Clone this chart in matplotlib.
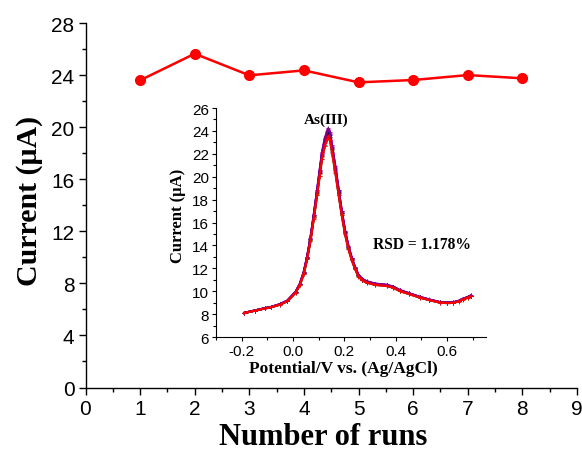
import matplotlib.pyplot as plt
from matplotlib.ticker import MultipleLocator

# Main plot: peak current for each run
runs = [1, 2, 3, 4, 5, 6, 7, 8]
peak_current = [23.60, 25.64, 23.98, 24.36, 23.44, 23.62, 24.00, 23.75]

# Inset: DPV curve (potential in V, current in uA)
potential = [-0.19, -0.15, -0.11, -0.087, -0.05, -0.022, 0.01, 0.027, 0.042,
             0.055, 0.068, 0.081, 0.094, 0.104, 0.113, 0.124, 0.133, 0.137,
             0.144, 0.152, 0.165, 0.178, 0.19, 0.203, 0.216, 0.229, 0.242,
             0.255, 0.27, 0.287, 0.32, 0.365, 0.39, 0.416, 0.45, 0.494, 0.53,
             0.571, 0.6, 0.622, 0.645, 0.661, 0.68, 0.694]
current = [8.1, 8.3, 8.5, 8.6, 8.85, 9.15, 9.9, 10.6, 11.6,
           12.9, 14.5, 16.5, 18.6, 20.3, 21.8, 23.0, 23.6, 23.85,
           23.5, 22.4, 20.6, 18.6, 16.8, 15.1, 13.8, 12.8, 12.0,
           11.35, 11.0, 10.8, 10.6, 10.5, 10.35, 10.05, 9.8, 9.47, 9.25,
           9.03, 8.98, 9.0, 9.12, 9.3, 9.45, 9.6]
run_offsets = [0.0, -0.25, 0.2, 0.3, -0.1, 0.1, 0.35, -0.3]
run_colors = ["black", "darkcyan", "blue", "magenta", "olive", "navy", "purple", "red"]

plt.rcParams["font.family"] = "Liberation Sans"

fig = plt.figure(figsize=(5.82, 4.52), dpi=100)
ax = fig.add_axes([85.5 / 582, 1 - 388.5 / 452, (577 - 85.5) / 582, (388.5 - 24) / 452])

ax.plot(runs, peak_current, color="#ff0000", linewidth=1.8, marker="o",
        markersize=7, markeredgecolor="#ff0000")
ax.set_xlim(0, 9)
ax.set_ylim(0, 28)
ax.xaxis.set_major_locator(MultipleLocator(1))
ax.xaxis.set_minor_locator(MultipleLocator(0.5))
ax.yaxis.set_major_locator(MultipleLocator(4))
ax.yaxis.set_minor_locator(MultipleLocator(2))
ax.spines["top"].set_visible(False)
ax.spines["right"].set_visible(False)
for s in ("left", "bottom"):
    ax.spines[s].set_linewidth(1.0)
ax.tick_params(which="major", direction="out", length=5, width=1, labelsize=15, pad=3)
ax.tick_params(which="minor", direction="out", length=3, width=1)
ax.set_xlabel("Number of runs", family="Liberation Serif", fontweight="bold",
              fontsize=22, va="baseline")
ax.set_ylabel("Current (\u03bcA)", family="Liberation Serif", fontweight="bold",
              fontsize=21.5)
ax.xaxis.set_label_coords(0.484, -0.154)
ax.yaxis.set_label_coords(-0.087, 0.515)

# Inset
ins = fig.add_axes([216 / 582, 1 - 338 / 452, (485.5 - 216) / 582, (338 - 109) / 452])
for off, col in zip(run_offsets, run_colors):
    ins.plot(potential, [c + off * (c - 8) / 15 for c in current], color=col,
             linewidth=1.6, marker="+", markersize=2.5, markeredgewidth=0.6)
ins.set_xlim(-0.3, 0.75)
ins.set_ylim(6, 26)
ins.xaxis.set_major_locator(MultipleLocator(0.2))
ins.xaxis.set_minor_locator(MultipleLocator(0.1))
ins.yaxis.set_major_locator(MultipleLocator(2))
ins.yaxis.set_minor_locator(MultipleLocator(1))
ins.xaxis.set_major_formatter(plt.FuncFormatter(lambda v, p: f"{v:.1f}"))
ins.spines["top"].set_visible(False)
ins.spines["right"].set_visible(False)
ins.tick_params(which="major", direction="out", length=3, width=0.8, labelsize=11, pad=2)
ins.tick_params(which="minor", direction="out", length=2, width=0.8)
ins.set_xlabel("Potential/V vs. (Ag/AgCl)", family="Liberation Serif",
               fontweight="bold", fontsize=12.5)
ins.set_ylabel("Current (\u03bcA)", family="Liberation Serif",
               fontweight="bold", fontsize=12)
ins.xaxis.set_label_coords(0.473, -0.10)
ins.yaxis.set_label_coords(-0.11, 0.533)
ins.text(0.13, 24.4, "As(III)", family="Liberation Serif", fontweight="bold",
         fontsize=11, ha="center", va="bottom")
ins.text(0.31, 14.1, "RSD = 1.178%", family="Liberation Serif", fontweight="bold",
         fontsize=11.2, ha="left", va="center")

fig.savefig("out.png", dpi=100)
